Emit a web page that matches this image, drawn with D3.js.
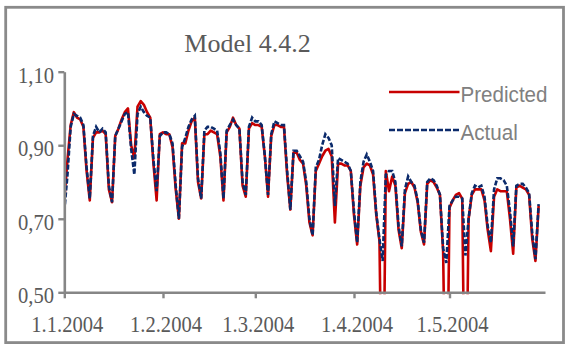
<!DOCTYPE html>
<html>
<head>
<meta charset="utf-8">
<script src="https://cdn.jsdelivr.net/npm/d3@7"></script>
<style>
  body { margin: 0; background: #fff; }
  svg { display: block; }
</style>
</head>
<body>
<div id="chart"></div>
<script>
// daily series, first value is 1.1.2004
const startDay = "2004-01-01";
const predicted = [
  0.75, 0.86, 0.955, 0.99, 0.975, 0.97, 0.95, 0.83, 0.75,
  0.92, 0.935, 0.935, 0.94, 0.93, 0.78, 0.745,
  0.925, 0.945, 0.97, 0.99, 1.0, 0.90, 0.865,
  1.005, 1.02, 1.01, 0.99, 0.975, 0.85, 0.75,
  0.93, 0.935, 0.93, 0.93, 0.895, 0.78, 0.70,
  0.905, 0.905, 0.94, 0.965, 0.975, 0.80, 0.755,
  0.93, 0.93, 0.94, 0.935, 0.93, 0.87, 0.75,
  0.935, 0.95, 0.975, 0.955, 0.945, 0.79, 0.76,
  0.945, 0.96, 0.955, 0.955, 0.95, 0.87, 0.76,
  0.925, 0.955, 0.955, 0.95, 0.95, 0.82, 0.725,
  0.88, 0.88, 0.86, 0.85, 0.79, 0.69, 0.655,
  0.83, 0.85, 0.87, 0.885, 0.89, 0.87, 0.69,
  0.85, 0.85, 0.845, 0.845, 0.83, 0.71, 0.63,
  0.79, 0.84, 0.85, 0.845, 0.82, 0.71, 0.64, 0.0,
  0.83, 0.775, 0.815, 0.79, 0.67, 0.62,
  0.77, 0.795, 0.80, 0.785, 0.745, 0.665, 0.63,
  0.795, 0.805, 0.80, 0.785, 0.765, 0.61, 0.0,
  0.73, 0.75, 0.765, 0.77, 0.755, 0.0, 0.70,
  0.765, 0.78, 0.78, 0.78, 0.75, 0.67, 0.612,
  0.76, 0.78, 0.775, 0.775, 0.775, 0.70, 0.605,
  0.785, 0.79, 0.785, 0.78, 0.765, 0.645, 0.585, 0.735
];
const actual = [
  0.72, 0.82, 0.95, 0.985, 0.98, 0.975, 0.955, 0.84, 0.755,
  0.925, 0.95, 0.935, 0.945, 0.935, 0.79, 0.745,
  0.925, 0.945, 0.965, 0.985, 0.99, 0.89, 0.82,
  0.985, 1.005, 0.99, 0.98, 0.975, 0.86, 0.775,
  0.925, 0.935, 0.935, 0.93, 0.905, 0.79, 0.70,
  0.895, 0.92, 0.95, 0.97, 0.98, 0.81, 0.755,
  0.94, 0.95, 0.95, 0.945, 0.94, 0.88, 0.755,
  0.94, 0.955, 0.97, 0.955, 0.945, 0.80, 0.765,
  0.95, 0.975, 0.965, 0.965, 0.955, 0.87, 0.765,
  0.93, 0.965, 0.96, 0.955, 0.955, 0.83, 0.725,
  0.885, 0.885, 0.87, 0.855, 0.80, 0.70, 0.655,
  0.84, 0.86, 0.90, 0.93, 0.92, 0.90, 0.735,
  0.865, 0.86, 0.855, 0.85, 0.83, 0.72, 0.635,
  0.80, 0.855, 0.875, 0.855, 0.83, 0.715, 0.645, 0.585,
  0.82, 0.83, 0.83, 0.80, 0.68, 0.625,
  0.78, 0.815, 0.80, 0.79, 0.75, 0.67, 0.635,
  0.80, 0.81, 0.805, 0.79, 0.765, 0.62, 0.58,
  0.735, 0.75, 0.76, 0.76, 0.755, 0.60, 0.70,
  0.77, 0.79, 0.785, 0.79, 0.76, 0.68, 0.635,
  0.78, 0.81, 0.81, 0.805, 0.79, 0.72, 0.625,
  0.79, 0.795, 0.795, 0.785, 0.77, 0.66, 0.59, 0.74
];
const xTickDates = ["2004-01-01", "2004-02-01", "2004-03-01", "2004-04-01", "2004-05-01"];
const xTickLabels = ["1.1.2004", "1.2.2004", "1.3.2004", "1.4.2004", "1.5.2004"];
const yTickValues = [1.1, 0.9, 0.7, 0.5];
const yTickLabels = ["1,10", "0,90", "0,70", "0,50"];
const seriesNames = ["Predicted", "Actual"];

const width = 566, height = 345;
const plot = {left: 64.3, right: 545, top: 71.7, bottom: 292.3};
const gray = "#868686";
const textGray = "#5a5a5a";
const red = "#c80000";
const navy = "#0b2a6b";

const parseDay = d3.timeParse("%Y-%m-%d");
const day0 = parseDay(startDay);
const dates = actual.map((v, i) => d3.timeDay.offset(day0, i));

const svg = d3.select("#chart").append("svg")
  .attr("width", width)
  .attr("height", height);

// outer frame
svg.append("rect")
  .attr("x", 5.7).attr("y", 7.3)
  .attr("width", 557.8).attr("height", 335.3)
  .attr("fill", "#fff")
  .attr("stroke", "#8a8a8a")
  .attr("stroke-width", 2.8);

const x = d3.scaleTime()
  .domain([day0, parseDay("2004-05-31")])
  .range([plot.left, plot.right]);
const y = d3.scaleLinear()
  .domain([0.5, 1.1])
  .range([plot.bottom, plot.top]);

// title
svg.append("text")
  .attr("x", 247.5).attr("y", 51.7)
  .attr("text-anchor", "middle")
  .attr("font-family", "'Liberation Serif', 'Times New Roman', serif")
  .attr("font-size", 26)
  .attr("fill", textGray)
  .text("Model 4.4.2");

// lines, clipped to the plot area so low predictions stop at the axis
svg.append("clipPath").attr("id", "plotClip")
  .append("rect")
  .attr("x", plot.left).attr("y", plot.top - 10)
  .attr("width", plot.right - plot.left)
  .attr("height", plot.bottom - plot.top + 12);

const line = d3.line()
  .x((d, i) => x(dates[i]))
  .y(d => y(d));

const lines = svg.append("g").attr("clip-path", "url(#plotClip)");
lines.append("path")
  .datum(predicted)
  .attr("d", line)
  .attr("fill", "none")
  .attr("stroke", red)
  .attr("stroke-width", 2.6)
  .attr("stroke-linejoin", "round");
lines.append("path")
  .datum(actual)
  .attr("d", line)
  .attr("fill", "none")
  .attr("stroke", navy)
  .attr("stroke-width", 2.6)
  .attr("stroke-dasharray", "5,2");

// axes
const xAxis = d3.axisBottom(x)
  .tickValues(xTickDates.map(parseDay))
  .tickFormat("")
  .tickSize(6)
  .tickSizeOuter(0);
const yAxis = d3.axisLeft(y)
  .tickValues(yTickValues)
  .tickFormat("")
  .tickSize(6)
  .tickSizeOuter(0);

const gx = svg.append("g")
  .attr("transform", "translate(0," + plot.bottom + ")")
  .call(xAxis);
const gy = svg.append("g")
  .attr("transform", "translate(" + plot.left + ",0)")
  .call(yAxis);
[gx, gy].forEach(g => {
  g.select(".domain").attr("stroke", gray).attr("stroke-width", 2.6);
  g.selectAll(".tick line").attr("stroke", gray).attr("stroke-width", 2.4);
});

// tick labels (Excel text here is a little narrow, hence the x squeeze)
const labelFont = "'Liberation Serif', 'Times New Roman', serif";
svg.append("g").selectAll("text")
  .data(xTickDates)
  .join("text")
  .attr("transform", d => "translate(" + (x(parseDay(d)) + 3) + ",332) scale(0.92,1)")
  .attr("text-anchor", "middle")
  .attr("font-family", labelFont)
  .attr("font-size", 22.4)
  .attr("fill", textGray)
  .text((d, i) => xTickLabels[i]);

svg.append("g").selectAll("text")
  .data(yTickValues)
  .join("text")
  .attr("transform", d => "translate(54," + (y(d) + 11) + ") scale(0.92,1)")
  .attr("text-anchor", "end")
  .attr("font-family", labelFont)
  .attr("font-size", 22.4)
  .attr("fill", textGray)
  .text((d, i) => yTickLabels[i]);

// legend
const legend = svg.append("g");
const legendRows = [
  {name: seriesNames[0], color: red, dash: null, y: 92},
  {name: seriesNames[1], color: navy, dash: "6,2", y: 130}
];
legendRows.forEach(r => {
  legend.append("line")
    .attr("x1", 389).attr("x2", 459.5)
    .attr("y1", r.y).attr("y2", r.y)
    .attr("stroke", r.color)
    .attr("stroke-width", 2.6)
    .attr("stroke-dasharray", r.dash);
  legend.append("text")
    .attr("transform", "translate(460.5," + (r.y + 9.7) + ") scale(0.92,1)")
    .attr("font-family", "'Liberation Sans', Arial, sans-serif")
    .attr("font-size", 22.4)
    .attr("fill", "#808080")
    .text(r.name);
});
</script>
</body>
</html>
